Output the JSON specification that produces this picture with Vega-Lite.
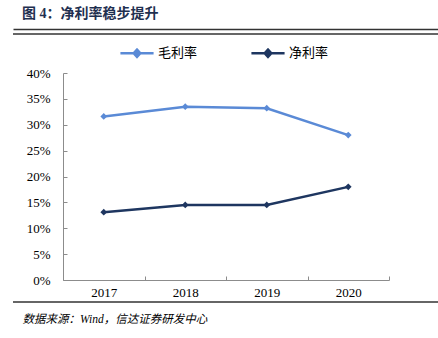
{
  "$schema": "https://vega.github.io/schema/vega-lite/v6.json",
  "autosize": {"type": "none"},
  "padding": {"left": 13, "top": 29, "right": 0, "bottom": 31},
  "width": 425,
  "height": 278,
  "background": "white",
  "config": {
    "view": {"stroke": null},
    "font": "Liberation Serif, Noto Sans CJK SC"
  },
  "title": {
    "text": "图 4：净利率稳步提升",
    "anchor": "start",
    "frame": "group",
    "dx": 9,
    "offset": 8,
    "fontSize": 14,
    "fontWeight": "bold",
    "color": "#1F3050",
    "font": "Liberation Serif, Noto Sans CJK SC"
  },
  "layer": [
    {
      "data": {
        "values": [
          {"year": "2017", "series": "毛利率", "value": 0.316},
          {"year": "2018", "series": "毛利率", "value": 0.335},
          {"year": "2019", "series": "毛利率", "value": 0.332},
          {"year": "2020", "series": "毛利率", "value": 0.280},
          {"year": "2017", "series": "净利率", "value": 0.131},
          {"year": "2018", "series": "净利率", "value": 0.145},
          {"year": "2019", "series": "净利率", "value": 0.145},
          {"year": "2020", "series": "净利率", "value": 0.180}
        ]
      },
      "encoding": {
        "x": {
          "field": "year",
          "type": "ordinal",
          "bandPosition": 0.5,
          "scale": {"type": "band", "paddingInner": 0, "paddingOuter": 0, "range": [50, 376]},
          "axis": {
            "orient": "bottom",
            "title": "数据来源：Wind，信达证券研发中心",
            "titleX": 9,
            "titleY": 39,
            "titleAlign": "left",
            "titleBaseline": "middle",
            "titleFont": "Liberation Serif, Noto Sans CJK SC",
            "titleFontSize": 11.5,
            "titleFontStyle": "italic",
            "titleFontWeight": "normal",
            "titleColor": "#000000",
            "offset": -27,
            "labelAngle": 0,
            "tickBand": "extent",
            "tickSize": -4,
            "domainColor": "#8c8c8c",
            "tickColor": "#8c8c8c",
            "labelFontSize": 13,
            "labelColor": "#000000",
            "labelFont": "Liberation Serif",
            "labelPadding": 10,
            "grid": false
          }
        },
        "y": {
          "field": "value",
          "type": "quantitative",
          "scale": {"domain": [0, 0.4], "nice": false, "range": [251, 44]},
          "axis": {
            "title": null,
            "offset": -50,
            "values": [0, 0.05, 0.1, 0.15, 0.2, 0.25, 0.3, 0.35, 0.4],
            "format": ".0%",
            "tickSize": -4,
            "domainColor": "#8c8c8c",
            "tickColor": "#8c8c8c",
            "labelFontSize": 13,
            "labelColor": "#000000",
            "labelFont": "Liberation Serif",
            "labelPadding": 17,
            "grid": false
          }
        },
        "color": {
          "field": "series",
          "type": "nominal",
          "scale": {"domain": ["毛利率", "净利率"], "range": ["#5A8AD6", "#1E3660"]},
          "legend": {
            "title": null,
            "orient": "none",
            "legendX": 106,
            "legendY": 6,
            "direction": "horizontal",
            "padding": 0,
            "columnPadding": 48,
            "labelOffset": 3,
            "labelFontSize": 13,
            "labelColor": "#000000",
            "labelFont": "Liberation Serif, Noto Sans CJK SC",
            "symbolType": "M-1,0L1,0M0,-0.22L0.2,0L0,0.22L-0.2,0Z",
            "symbolSize": 1100,
            "symbolStrokeWidth": 2.5,
            "symbolOpacity": 1
          }
        }
      },
      "layer": [
        {"mark": {"type": "line", "strokeWidth": 2.5}},
        {"mark": {"type": "point", "shape": "diamond", "filled": true, "size": 45, "opacity": 1}}
      ]
    },
    {
      "data": {"values": [{"edge": 0, "from": 0, "to": 1}, {"edge": 1, "from": 0, "to": 1}]},
      "mark": {"type": "bar", "color": "#333333", "height": 1.5, "orient": "horizontal"},
      "encoding": {
        "y": {
          "field": "edge",
          "type": "quantitative",
          "scale": {"domain": [0, 1], "nice": false, "zero": false, "range": [278, 0]},
          "axis": null
        },
        "x": {
          "field": "from",
          "type": "quantitative",
          "scale": {"domain": [0, 1], "nice": false, "zero": false, "range": [0, 425]},
          "axis": {
            "orient": "top",
            "title": null,
            "labels": false,
            "ticks": false,
            "grid": false,
            "domain": true,
            "domainColor": "#333333",
            "domainWidth": 1.5
          }
        },
        "x2": {"field": "to"}
      }
    }
  ],
  "resolve": {
    "scale": {"x": "independent", "y": "independent"},
    "axis": {"x": "independent", "y": "independent"}
  }
}
